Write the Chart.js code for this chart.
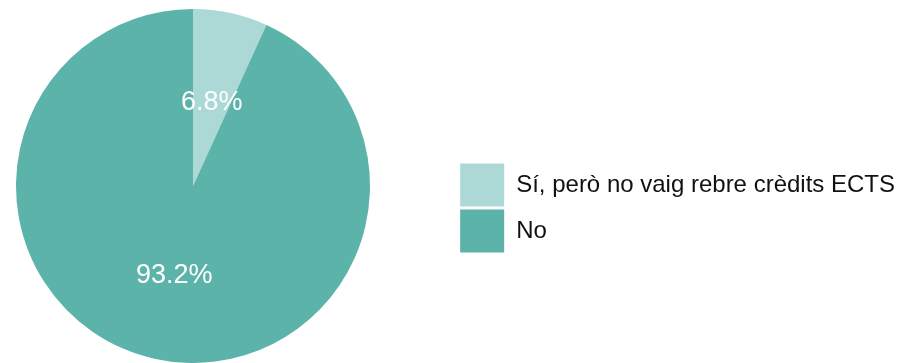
<!DOCTYPE html>
<html>
<head>
<meta charset="utf-8">
<script src="https://cdn.jsdelivr.net/npm/chart.js@4/dist/chart.umd.min.js"></script>
<style>
  html, body { margin: 0; padding: 0; background: #fff; }
  #wrap { width: 903px; height: 363px; }
</style>
</head>
<body>
<div id="wrap"><canvas id="pie"></canvas></div>
<script>
const categories = ['Sí, però no vaig rebre crèdits ECTS', 'No'];
const percentages = [6.8, 93.2];
const sliceColors = ['#acd9d5', '#5bb3aa'];

// el pastís queda a l'esquerra, no centrat a l'espai lliure
const pieArea = {
    id: 'pieArea',
    afterLayout(chart) {
        const a = chart.chartArea;
        a.left = 16;
        a.right = 370;
        a.width = a.right - a.left;
        // llegenda una mica més a la dreta
        if (chart.legend) {
            chart.legend.left += 2;
            chart.legend.right += 2;
        }
    }
};

// etiquetes de percentatge dins de cada porció
const percentLabels = {
    id: 'percentLabels',
    afterDatasetsDraw(chart) {
        const ctx = chart.ctx;
        const meta = chart.getDatasetMeta(0);
        ctx.save();
        ctx.fillStyle = '#ffffff';
        ctx.font = '27px "Liberation Sans", Arial, sans-serif';
        ctx.textAlign = 'center';
        ctx.textBaseline = 'middle';
        meta.data.forEach((arc, i) => {
            const pos = arc.tooltipPosition();
            ctx.fillText(percentages[i].toFixed(1) + '%', pos.x, pos.y + 3);
        });
        ctx.restore();
    }
};

new Chart(document.getElementById('pie'), {
    type: 'pie',
    data: {
        labels: categories,
        datasets: [{
            data: percentages,
            backgroundColor: sliceColors,
            borderWidth: 0
        }]
    },
    options: {
        responsive: true,
        maintainAspectRatio: false,
        animation: false,
        layout: { padding: { left: 0, top: 9, bottom: 0, right: 0 } },
        plugins: {
            legend: {
                position: 'right',
                align: 'center',
                title: {
                    display: true,
                    text: '',
                    font: { size: 10, lineHeight: 1 },
                    padding: 17
                },
                labels: {
                    boxWidth: 44,
                    boxHeight: 43,
                    padding: 3,
                    color: '#111111',
                    font: { family: '"Liberation Sans", Arial, sans-serif', size: 24 }
                }
            },
            tooltip: { enabled: false }
        }
    },
    plugins: [pieArea, percentLabels]
});
</script>
</body>
</html>
